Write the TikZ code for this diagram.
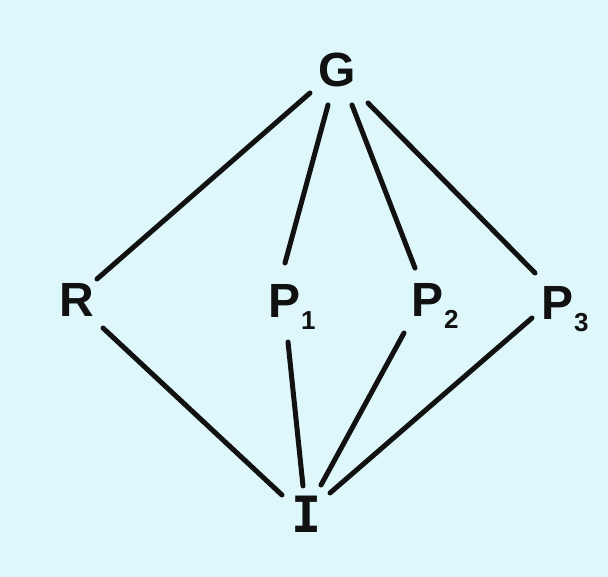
\documentclass[tikz,border=0pt]{standalone}
\usepackage{fontspec}
\setmainfont{Liberation Sans}
\newfontfamily\monofam{DejaVu Sans Mono}
\definecolor{bgcyan}{RGB}{222,247,250}
\definecolor{ink}{RGB}{17,17,17}
\newcommand\mysub[1]{\kern1pt\raisebox{-12pt}{\fontsize{26}{26}\selectfont\bfseries #1}}
\tikzset{
  lbl/.style={inner sep=0pt, outer sep=0pt, text=ink, font=\fontsize{48}{48}\selectfont\bfseries},
  edge/.style={draw=ink, line width=5pt, line cap=round}
}
\begin{document}
\begin{tikzpicture}[x=1pt,y=-1pt]
\fill[bgcyan] (0,0) rectangle (608,577);
\useasboundingbox (0,0) rectangle (608,577);
% nodes
\node[lbl, anchor=base] (G) at (337,87) {G};
\node[lbl, anchor=base] (R) at (77,317) {R};
\node[lbl, anchor=base west] (P1) at (268,318) {P\mysub{1}};
\node[lbl, anchor=base west] (P2) at (411,317) {P\mysub{2}};
\node[lbl, anchor=base west] (P3) at (541,320) {P\mysub{3}};
\node[lbl, anchor=base, font=\monofam\fontsize{50}{50}\selectfont\bfseries] (I) at (307,532) {I};
% connectors
\draw[edge] ([shift={(-27,6)}]G.base) -- ([shift={(20,-38)}]R.base);
\draw[edge] ([shift={(-9,18)}]G.base) -- ([shift={(17,-55)}]P1.base west);
\draw[edge] ([shift={(15,18)}]G.base) -- ([shift={(4,-49)}]P2.base west);
\draw[edge] ([shift={(31,16)}]G.base) -- ([shift={(-6,-47)}]P3.base west);
\draw[edge] ([shift={(26,11)}]R.base) -- ([shift={(-25,-37)}]I.base);
\draw[edge] ([shift={(20,24)}]P1.base west) -- ([shift={(-4,-46)}]I.base);
\draw[edge] ([shift={(-7,16)}]P2.base west) -- ([shift={(14,-47)}]I.base);
\draw[edge] ([shift={(-9,-2)}]P3.base west) -- ([shift={(23,-39)}]I.base);
\end{tikzpicture}
\end{document}
